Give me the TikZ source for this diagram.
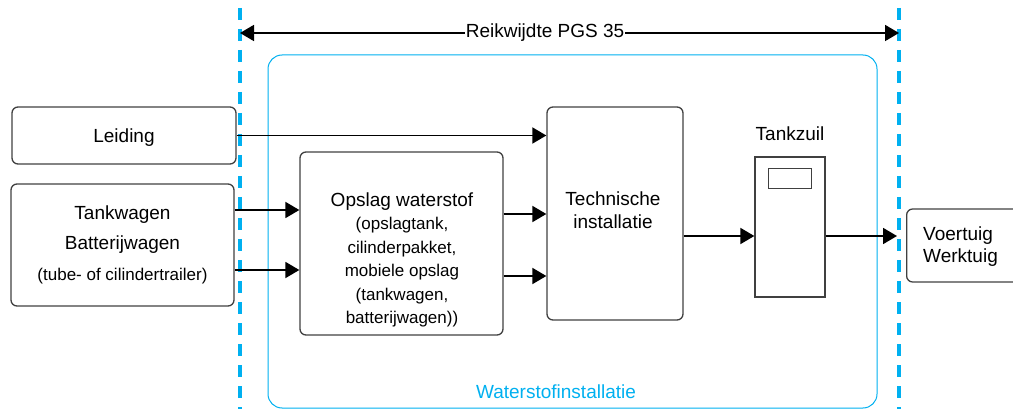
\documentclass[tikz,border=0pt]{standalone}
\usepackage{fontspec}
\setmainfont{Liberation Sans}
\usetikzlibrary{arrows.meta}
\definecolor{scopeblue}{RGB}{0,176,240}
\definecolor{edgegray}{RGB}{64,64,64}
\begin{document}
\begin{tikzpicture}[x=1pt,y=-1pt,
  box/.style={draw=edgegray, line width=1.3pt, rounded corners=6pt, inner sep=0pt},
  arr/.style={line width=1.8pt, -{Triangle[length=14pt,width=16pt]}},
  txt/.style={font=\fontsize{19}{23}\selectfont, inner sep=0pt},
  smalltxt/.style={font=\fontsize{17}{23.5}\selectfont, inner sep=0pt},
  scopeline/.style={scopeblue, line width=4pt, dash pattern=on 12pt off 9pt}]
\clip (0,0) rectangle (1013,409);
% scope boundaries
\draw[scopeline] (240,-13) -- (240,420);
\draw[scopeline] (899,-13) -- (899,420);
% water installation container
\node[draw=scopeblue, line width=1pt, rounded corners=14pt, minimum width=609, minimum height=353, inner sep=0pt] (wsi) at (572.5,231.5) {};
\node[txt, text=scopeblue] (wsilabel) at (556,392) {Waterstofinstallatie};
% scope arrow
\coordinate (sL) at (240,33);
\coordinate (sR) at (899,33);
\node[txt, fill=white, inner xsep=1pt, inner ysep=2pt] (scopelabel) at (545,33) {Reikwijdte PGS 35};
\draw[arr] (scopelabel.west) -- (sL);
\draw[arr] (scopelabel.east) -- (sR);
% boxes
\node[box, txt, text depth=0pt, minimum width=224, minimum height=57] (leiding) at (124,135.5) {Leiding};
\node[box, minimum width=223, minimum height=122, align=center, font=\fontsize{19}{30}\selectfont] (tank) at (122.5,245)
  {Tankwagen\\Batterijwagen\\[1pt]{\fontsize{17}{30}\selectfont(tube- of cilindertrailer)}};
\node[box, minimum width=203, minimum height=183] (opslag) at (401.5,243.5) {};
\node[smalltxt, align=center] (opslagtxt) at (402,260)
  {{\fontsize{19}{23.5}\selectfont Opslag waterstof}\\(opslagtank,\\cilinderpakket,\\mobiele opslag\\(tankwagen,\\batterijwagen))};
\node[box, minimum width=136, minimum height=213] (tech) at (615,213.5) {};
\node[txt, align=center] (techtxt) at (613,210) {Technische\\installatie};
\node[draw=edgegray, line width=1.3pt, minimum width=70, minimum height=140, inner sep=0pt] (zuil) at (790,227) {};
\node[draw=edgegray, line width=1pt, minimum width=43, minimum height=20, inner sep=0pt] (display) at (789.5,179) {};
\node[txt] (zuillabel) at (790,134) {Tankzuil};
\node[box, minimum width=140, minimum height=73, anchor=west] (voertuig) at (906,245.5) {};
\node[txt, align=left, anchor=west, font=\fontsize{19}{22}\selectfont] (voertuigtxt) at (923,246.5) {Voertuig\\Werktuig};
% connectors
\draw[arr] (leiding.east) -- (leiding.east -| tech.west);
\draw[arr] ([yshift=35pt]tank.east) -- ([yshift=35pt]tank.east -| opslag.west);
\draw[arr] ([yshift=-25pt]tank.east) -- ([yshift=-25pt]tank.east -| opslag.west);
\draw[arr] ([yshift=29.5pt]opslag.east) -- ([yshift=29.5pt]opslag.east -| tech.west);
\draw[arr] ([yshift=-32.5pt]opslag.east) -- ([yshift=-32.5pt]opslag.east -| tech.west);
\coordinate (z1) at ([yshift=-9pt]zuil.west);
\draw[arr] (z1 -| tech.east) -- (z1);
\coordinate (v1) at ([xshift=-9pt]voertuig.west |- z1);
\draw[arr] (z1 -| zuil.east) -- (v1);
\end{tikzpicture}
\end{document}
